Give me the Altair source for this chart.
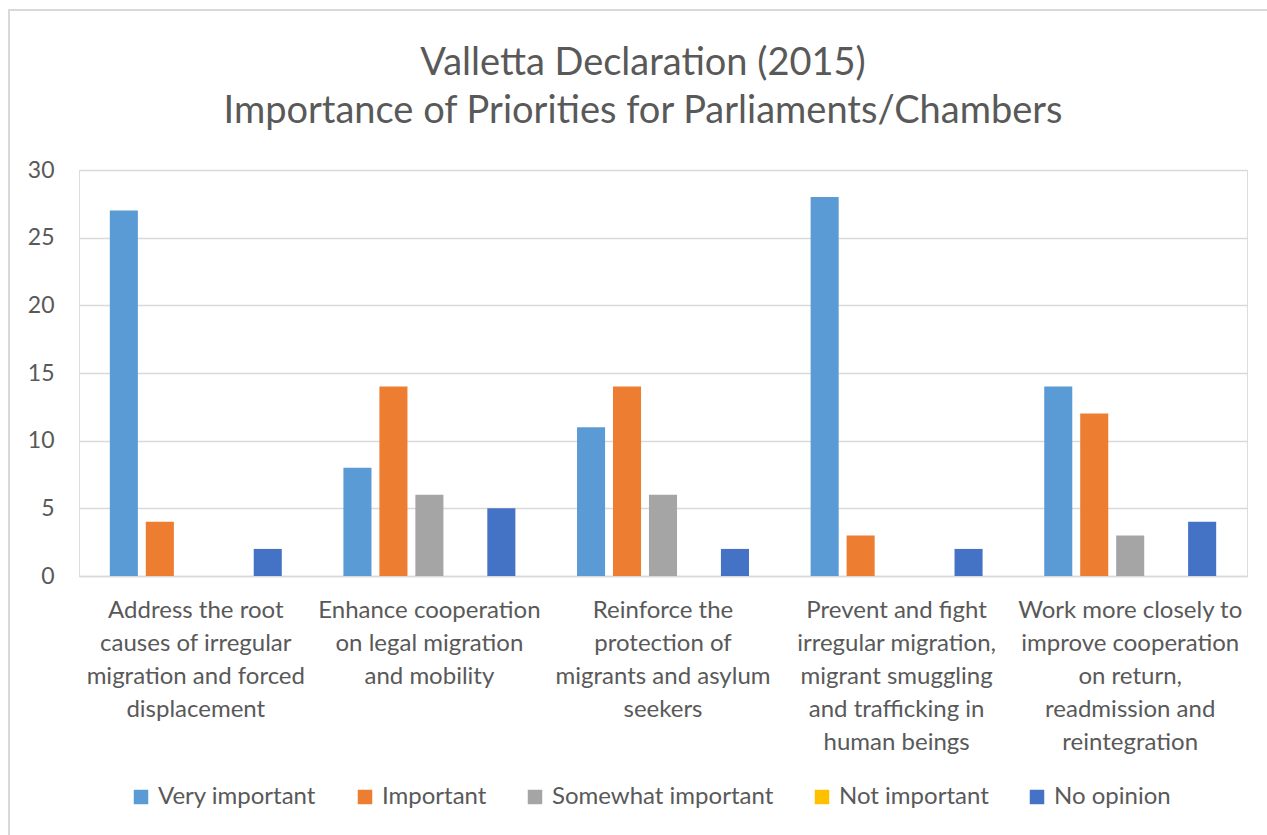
import altair as alt
import pandas as pd

categories = [
    "Address the root|causes of irregular|migration and forced|displacement",
    "Enhance cooperation|on legal migration|and mobility",
    "Reinforce the|protection of|migrants and asylum|seekers",
    "Prevent and fight|irregular migration,|migrant smuggling|and trafficking in|human beings",
    "Work more closely to|improve cooperation|on return,|readmission and|reintegration",
]
series = ["Very important", "Important", "Somewhat important", "Not important", "No opinion"]
very_important = [27, 8, 11, 28, 14]
important = [4, 14, 14, 3, 12]
somewhat_important = [0, 6, 6, 0, 3]
not_important = [0, 0, 0, 0, 0]
no_opinion = [2, 5, 2, 2, 4]
colors = ["#5B9BD5", "#ED7D31", "#A5A5A5", "#FFC000", "#4472C4"]
y_ticks = [0, 5, 10, 15, 20, 25, 30]

values = [very_important, important, somewhat_important, not_important, no_opinion]
rows = []
for s, vals in zip(series, values):
    for c, v in zip(categories, vals):
        rows.append({"Priority": c, "Importance": s, "Count": v})
df = pd.DataFrame(rows)

FONT = "Lato"
TXT = "#595959"
GRID = "#D9D9D9"

bars = alt.Chart(df).mark_bar(strokeWidth=0).encode(
    x=alt.X(
        "Priority:N",
        sort=categories,
        title=None,
        scale=alt.Scale(paddingInner=0.23, paddingOuter=0.115),
        axis=alt.Axis(
            labelExpr="split(datum.label, '|')",
            labelAngle=0,
            labelFont=FONT,
            labelFontSize=24,
            labelColor=TXT,
            labelLineHeight=33,
            labelPadding=22,
            labelLimit=400,
            labelOverlap=False,
            ticks=False,
            domainColor=GRID,
            domainWidth=1.5,
            grid=False,
        ),
    ),
    xOffset=alt.XOffset(
        "Importance:N",
        sort=series,
        scale=alt.Scale(paddingInner=0.22, paddingOuter=0.11),
    ),
    y=alt.Y(
        "Count:Q",
        title=None,
        scale=alt.Scale(domain=[0, 30], nice=False),
        axis=alt.Axis(
            values=y_ticks,
            labelFont=FONT,
            labelFontSize=23,
            labelColor=TXT,
            labelPadding=25,
            domain=False,
            ticks=False,
            gridColor=GRID,
            gridWidth=1.5,
        ),
    ),
    color=alt.Color(
        "Importance:N",
        sort=series,
        scale=alt.Scale(domain=series, range=colors),
        legend=alt.Legend(
            title=None,
            orient="none",
            direction="horizontal",
            legendX=50,
            legendY=615,
            symbolType="square",
            symbolSize=210,
            symbolStrokeWidth=0,
            labelFont=FONT,
            labelFontSize=24,
            labelColor=TXT,
            labelOffset=5,
            labelLimit=400,
            columnPadding=36,
        ),
    ),
)

frame = alt.Chart(pd.DataFrame({"a": [0]})).mark_rect(
    fill=None, stroke=GRID, strokeWidth=2
).encode(
    x=alt.value(-70), x2=alt.value(1230), y=alt.value(-160), y2=alt.value(700)
)

chart = alt.layer(frame, bars).properties(
    width=1168,
    height=406,
    padding={"left": 79, "top": 170, "right": 20, "bottom": 259},
    autosize=alt.AutoSizeParams(type="none"),
    title=alt.TitleParams(
        text=["Valletta Declaration (2015)", "Importance of Priorities for Parliaments/Chambers"],
        font=FONT,
        fontSize=38,
        fontWeight="normal",
        color=TXT,
        lineHeight=48,
        anchor="middle",
        dx=-20,
        dy=162,
        offset=40,
    ),
).configure_view(stroke=None).configure(background="white")

chart.save("out.html", embed_options={"renderer": "svg", "actions": False})
